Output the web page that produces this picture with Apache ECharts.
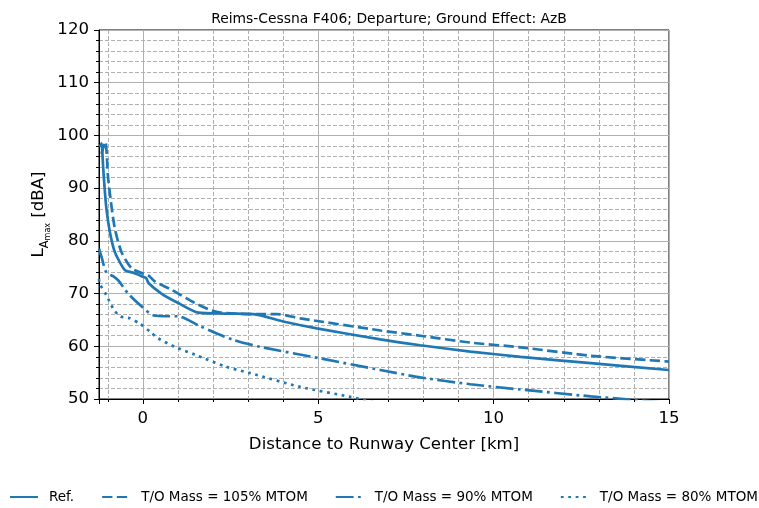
<!DOCTYPE html>
<html>
<head>
<meta charset="utf-8">
<script src="https://cdn.jsdelivr.net/npm/echarts@6/dist/echarts.min.js"></script>
<style>
  html, body { margin: 0; padding: 0; background: #fff; }
  #chart { width: 759px; height: 508px; }
</style>
</head>
<body>
<div id="chart"></div>
<script>
// Maximum A-weighted level vs. distance to runway center, per take-off mass
const refKm = [-1.22, -1.18, -1.13, -1.09, -1.04, -0.94, -0.8, -0.61, -0.5, -0.25, 0.0, 0.1, 0.16, 0.53, 1.01, 1.58, 2.34, 3.15, 4.0, 4.96, 6.77, 7.91, 9.34, 10.77, 12.77, 15.0];
const refDb = [97.8, 98.5, 93.8, 90.0, 86.2, 81.7, 77.9, 75.4, 74.4, 73.9, 73.2, 72.9, 72.0, 70.0, 68.2, 66.4, 66.2, 66.1, 64.7, 63.4, 61.3, 60.2, 59.0, 58.0, 56.8, 55.5];

const mass105Km = [-1.18, -1.07, -0.99, -0.91, -0.8, -0.61, -0.32, 0.0, 0.15, 0.34, 0.82, 1.49, 1.96, 2.34, 3.15, 3.82, 4.49, 6.77, 7.91, 9.34, 10.77, 12.77, 15.0];
const mass105Db = [96.5, 98.8, 91.9, 87.4, 82.4, 77.9, 74.8, 73.8, 73.5, 72.3, 70.7, 68.2, 66.8, 66.3, 66.1, 66.1, 65.3, 63.0, 62.0, 60.7, 59.8, 58.2, 57.1];

const mass90Km = [-1.25, -1.18, -1.04, -0.85, -0.7, -0.42, -0.04, 0.29, 0.77, 1.0, 1.63, 2.58, 3.34, 5.06, 6.77, 7.91, 9.34, 10.77, 12.77, 15.0];
const mass90Db = [78.5, 77.0, 74.0, 73.3, 72.5, 70.0, 67.6, 65.9, 65.7, 65.7, 63.8, 61.2, 59.9, 57.7, 55.5, 54.1, 52.8, 51.8, 50.5, 49.3];

const mass80Km = [-1.25, -1.23, -1.04, -0.85, -0.66, -0.37, -0.09, 0.2, 0.44, 0.91, 1.49, 2.34, 3.06, 4.49, 5.91, 7.0];
const mass80Db = [72.8, 71.9, 69.7, 67.2, 65.7, 65.3, 64.3, 62.8, 61.5, 59.9, 58.4, 56.2, 54.9, 52.3, 50.4, 48.8];

const seriesNames = ['Ref.', 'T/O Mass = 105% MTOM', 'T/O Mass = 90% MTOM', 'T/O Mass = 80% MTOM'];
const titleText = 'Reims-Cessna F406; Departure; Ground Effect: AzB';
const xAxisTitle = 'Distance to Runway Center [km]';

const BLUE = '#1f77b4';
const FONT = 'DejaVu Sans';
const pairs = (xs, ys) => xs.map((x, i) => [x, ys[i]]);

// solid, dashed, dash-dot, dotted
const dashStyles = [
  'solid',
  [10.3, 4.4],
  [17.8, 4.4, 2.8, 4.4],
  [2.8, 4.6]
];
const seriesData = [
  pairs(refKm, refDb),
  pairs(mass105Km, mass105Db),
  pairs(mass90Km, mass90Db),
  pairs(mass80Km, mass80Db)
];

const chart = echarts.init(document.getElementById('chart'), null, { renderer: 'canvas' });

chart.setOption({
  animation: false,
  backgroundColor: '#fff',
  title: {
    text: titleText,
    left: 384,
    textAlign: 'center',
    top: 7,
    textStyle: { fontFamily: FONT, fontSize: 13.9, fontWeight: 'normal', color: '#000' }
  },
  legend: {
    left: 9,
    top: 490,
    width: 900,
    padding: 0,
    itemWidth: 28,
    itemHeight: 14,
    itemGap: 27,
    itemStyle: { color: 'transparent', borderColor: 'transparent', borderWidth: 0, opacity: 0 },
    textStyle: { fontFamily: FONT, fontSize: 13.5, color: '#000', padding: [0, 0, 0, 6] },
    data: seriesNames
  },
  grid: {
    left: 99, right: 90, top: 30, bottom: 109,
    show: true, borderColor: '#000', borderWidth: 1, backgroundColor: 'transparent'
  },
  xAxis: {
    type: 'value',
    min: -1.25,
    max: 15,
    minInterval: 5,
    maxInterval: 5,
    name: xAxisTitle,
    nameLocation: 'middle',
    nameGap: 37,
    nameMoveOverlap: false,
    nameTextStyle: { fontFamily: FONT, fontSize: 16.6, color: '#000' },
    axisLine: { show: true, onZero: false, lineStyle: { color: '#000', width: 1 } },
    axisTick: { show: true, inside: false, length: 5, lineStyle: { color: '#000' } },
    minorTick: { show: true, splitNumber: 5, length: 3, lineStyle: { color: '#000' } },
    axisLabel: {
      showMinLabel: false, margin: 11,
      fontFamily: FONT, fontSize: 16.6, color: '#000'
    },
    splitLine: { show: true, lineStyle: { color: '#b0b0b0', width: 1 } },
    minorSplitLine: { show: true, lineStyle: { color: '#b0b0b0', width: 1, type: [4, 2] } }
  },
  yAxis: {
    type: 'value',
    min: 50,
    max: 120,
    interval: 10,
    name: '{L|L}{A|A}{m|max}{t| [dBA]}',
    nameLocation: 'middle',
    nameGap: 52,
    nameMoveOverlap: false,
    nameTextStyle: {
      fontFamily: FONT, fontSize: 16.6, color: '#000',
      rich: {
        L: { fontFamily: FONT, fontSize: 16.6, color: '#000', verticalAlign: 'bottom', lineHeight: 20 },
        A: { fontFamily: FONT, fontSize: 11.5, color: '#000', verticalAlign: 'bottom', lineHeight: 20, padding: [0, 0, -4, 0] },
        m: { fontFamily: FONT, fontSize: 8, color: '#000', verticalAlign: 'bottom', lineHeight: 20, padding: [0, 0, -5, 0] },
        t: { fontFamily: FONT, fontSize: 16.6, color: '#000', verticalAlign: 'bottom', lineHeight: 20 }
      }
    },
    axisLine: { show: true, onZero: false, lineStyle: { color: '#000', width: 1 } },
    axisTick: { show: true, inside: false, length: 5, lineStyle: { color: '#000' } },
    minorTick: { show: true, splitNumber: 5, length: 3, lineStyle: { color: '#000' } },
    axisLabel: { margin: 10, fontFamily: FONT, fontSize: 16.6, color: '#000' },
    splitLine: { show: true, lineStyle: { color: '#b0b0b0', width: 1 } },
    minorSplitLine: { show: true, lineStyle: { color: '#b0b0b0', width: 1, type: [4, 2] } }
  },
  series: seriesNames.map((name, i) => ({
    name,
    type: 'line',
    data: seriesData[i],
    symbol: 'none',
    smooth: 0.25,
    clip: true,
    color: BLUE,
    lineStyle: { color: BLUE, width: 2.7, type: dashStyles[i], cap: 'butt' },
    z: 5
  }))
});
</script>
</body>
</html>
